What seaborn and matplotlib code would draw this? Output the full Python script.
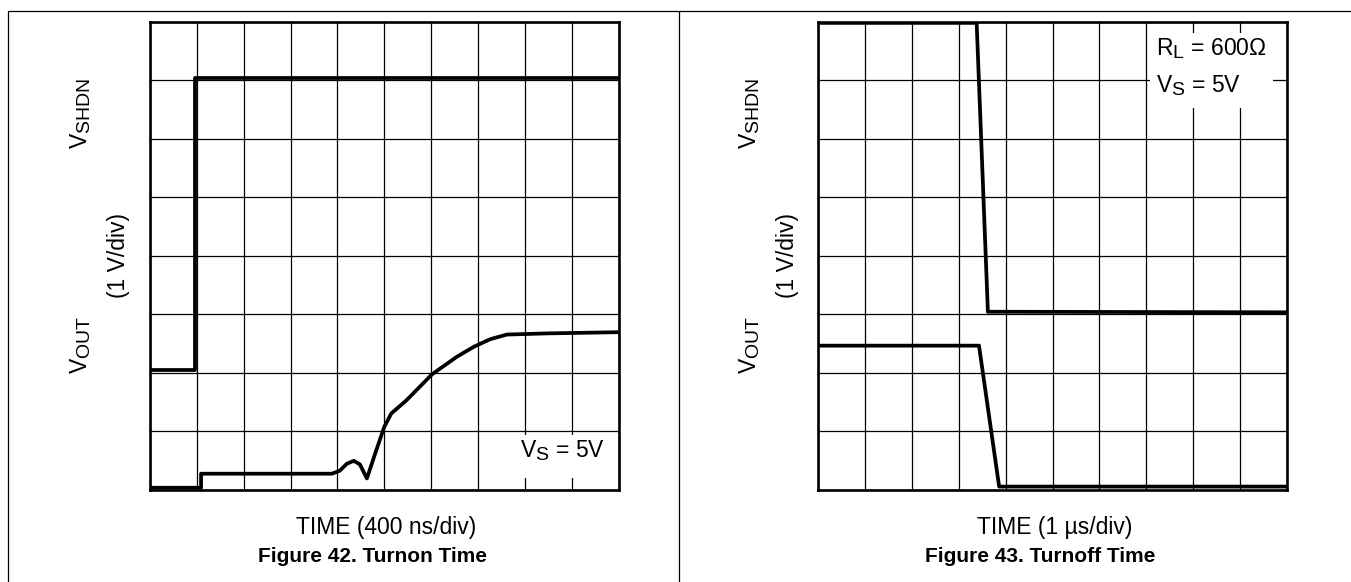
import matplotlib
matplotlib.use("Agg")
import matplotlib.pyplot as plt
import matplotlib._mathtext as mathtext_internal
import seaborn as sns
from matplotlib.lines import Line2D
from matplotlib.patches import Rectangle

# grid is 10 x-divisions by 8 y-divisions (scope screen)
# Figure 42 - turnon
turnon_shdn_t = [0, 0.96, 0.96, 10]
turnon_shdn_v = [2.05, 2.05, 7.04, 7.04]
turnon_out_t = [0, 1.09, 1.09, 3.88, 4.05, 4.2, 4.35, 4.48, 4.56, 4.63, 4.8, 5.0,
                5.15, 5.48, 6.02, 6.55, 6.91, 7.26, 7.62, 8.5, 10]
turnon_out_v = [0.03, 0.03, 0.27, 0.27, 0.32, 0.44, 0.49, 0.43, 0.3, 0.19, 0.6, 1.07,
                1.3, 1.53, 1.97, 2.27, 2.44, 2.57, 2.65, 2.67, 2.69]

# Figure 43 - turnoff
turnoff_shdn_t = [0, 3.38, 3.62, 10]
turnoff_shdn_v = [7.98, 7.98, 3.04, 3.03]
turnoff_out_t = [0, 3.43, 3.86, 10]
turnoff_out_v = [2.46, 2.46, 0.05, 0.05]

x_labels = ["TIME (400 ns/div)", "TIME (1 µs/div)"]
captions = ["Figure 42. Turnon Time", "Figure 43. Turnoff Time"]
y_top = r"$\mathregular{V_{SHDN}}$"
y_mid = "(1 V/div)"
y_bot = r"$\mathregular{V_{OUT}}$"

sns.set_theme(style="white")
plt.rcParams["font.family"] = ["Liberation Sans", "DejaVu Sans"]
plt.rcParams["mathtext.default"] = "regular"
plt.rcParams["text.color"] = "black"
# subscripts in the datasheet are nearly full size
mathtext_internal.SHRINK_FACTOR = 0.85

W, H = 1351, 582
FS = 16.5


def fx(px):
    return px / W


def fy(py):
    return 1 - py / H


fig = plt.figure(figsize=(W / 100, H / 100), dpi=100)

# page frame lines
fig.add_artist(Line2D([fx(8), 1], [fy(11), fy(11)], transform=fig.transFigure, color="black", lw=0.9))
fig.add_artist(Line2D([fx(8), fx(8)], [0, fy(11)], transform=fig.transFigure, color="black", lw=0.9))
fig.add_artist(Line2D([fx(679.3), fx(679.3)], [0, fy(11)], transform=fig.transFigure, color="black", lw=0.9))


def scope_panel(left_px, traces, xlabel, caption, notes, note_box):
    ax = fig.add_axes([fx(left_px), fy(489.5), 468.5 / W, 467.8 / H])
    ax.set_axisbelow(True)
    for t, v in traces:
        sns.lineplot(x=t, y=v, ax=ax, estimator=None, sort=False, color="black", lw=2.7, zorder=3)
    ax.set_xlim(0, 10)
    ax.set_ylim(0, 8)
    ax.set_xticks(range(11))
    ax.set_yticks(range(9))
    ax.tick_params(length=0, labelbottom=False, labelleft=False)
    ax.grid(True, color="black", lw=0.9)
    for s in ax.spines.values():
        s.set_visible(True)
        s.set_color("black")
        s.set_linewidth(1.9)
    ax.set_xlabel("")
    ax.set_ylabel("")
    # white patch under the condition notes
    x0, y0, w, h = note_box
    ax.add_patch(Rectangle((x0, y0), w, h, facecolor="white", edgecolor="none", zorder=1))
    for x, y, s in notes:
        ax.text(x, y, s, fontsize=FS, ha="left", va="baseline", zorder=4)

    cx = left_px + 234
    fig.text(fx(cx + 2), fy(534), xlabel, fontsize=FS, ha="center", va="baseline")
    fig.text(fx(cx - 12), fy(562), caption, fontsize=15, fontweight="bold", ha="center", va="baseline")
    fig.text(fx(left_px - 69), fy(113), y_top, fontsize=FS, rotation=90, ha="center", va="center")
    fig.text(fx(left_px - 31), fy(255), y_mid, fontsize=FS, rotation=90, ha="center", va="center")
    fig.text(fx(left_px - 69), fy(345), y_bot, fontsize=FS, rotation=90, ha="center", va="center")
    return ax


scope_panel(150, [(turnon_shdn_t, turnon_shdn_v), (turnon_out_t, turnon_out_v)],
            x_labels[0], captions[0],
            [(7.9, 0.56, r"$\mathregular{V_S}$ = 5V")],
            (7.7, 0.2, 2.0, 0.73))

scope_panel(818.3, [(turnoff_shdn_t, turnoff_shdn_v), (turnoff_out_t, turnoff_out_v)],
            x_labels[1], captions[1],
            [(7.2, 7.43, r"$\mathregular{R_L}$ = 600Ω"), (7.2, 6.8, r"$\mathregular{V_S}$ = 5V")],
            (7.07, 6.53, 2.63, 1.28))

fig.savefig("out.png", dpi=100, facecolor="white")
